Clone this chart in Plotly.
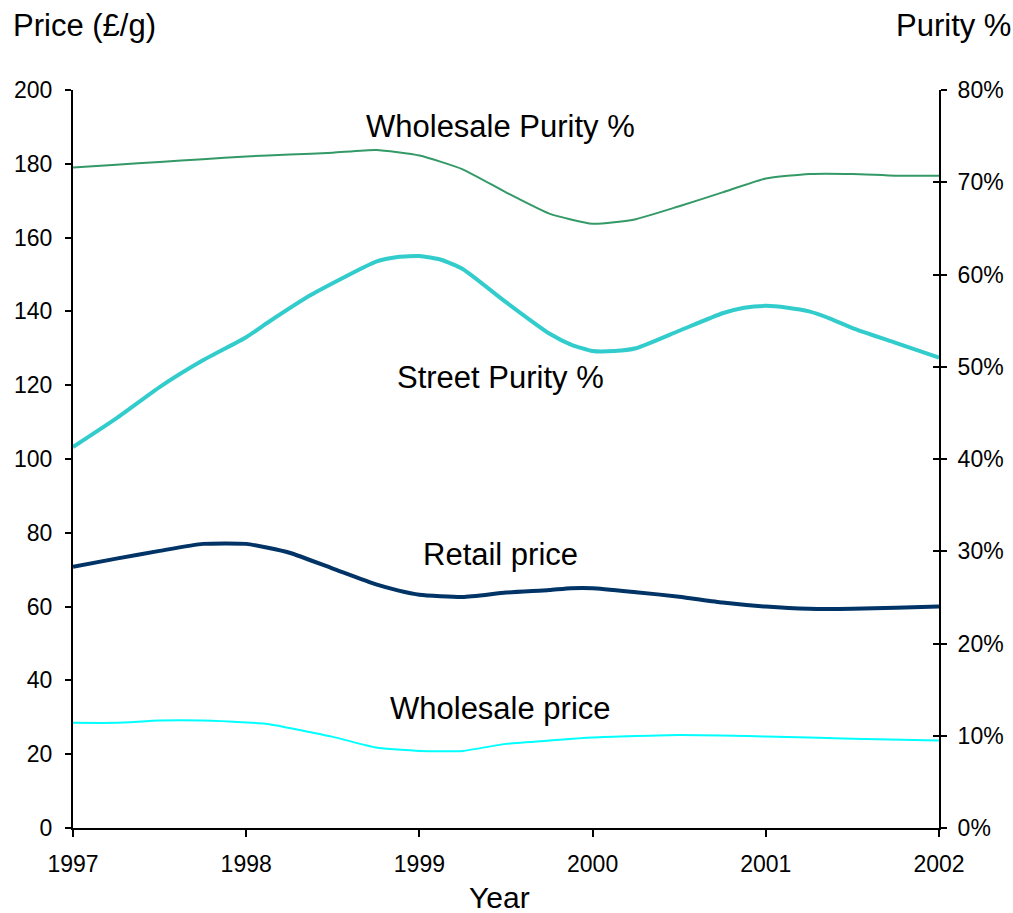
import plotly.graph_objects as go

# Wholesale purity (%), right axis
wp_purity_x = [1997, 1997.25, 1997.5, 1997.75, 1998, 1998.25, 1998.5, 1998.75, 1999,
               1999.25, 1999.5, 1999.75, 2000, 2000.25, 2000.5, 2000.75, 2001,
               2001.25, 2001.5, 2001.75, 2002]
wp_purity = [71.6, 71.9, 72.2, 72.5, 72.8, 73.0, 73.2, 73.5, 72.9,
             71.4, 68.9, 66.6, 65.5, 66.0, 67.4, 68.9, 70.4,
             70.9, 70.9, 70.7, 70.7]

# Street purity (%), right axis
st_purity_x = [1997, 1997.25, 1997.5, 1997.75, 1998, 1998.125, 1998.375, 1998.75,
               1998.875, 1999, 1999.125, 1999.25, 1999.5, 1999.75, 1999.875, 2000,
               2000.125, 2000.25, 2000.5, 2000.75, 2000.875, 2001, 2001.125,
               2001.25, 2001.375, 2001.5, 2001.75, 2002]
st_purity = [41.3, 44.4, 47.8, 50.7, 53.2, 54.8, 57.8, 61.4,
             61.9, 62.0, 61.6, 60.6, 57.0, 53.6, 52.4, 51.7,
             51.7, 52.0, 53.9, 55.8, 56.4, 56.6, 56.4,
             56.0, 55.2, 54.2, 52.6, 51.0]

# Retail price (£/g), left axis
retail_x = [1997, 1997.25, 1997.5, 1997.75, 1998, 1998.25, 1998.5, 1998.75, 1998.875,
            1999, 1999.25, 1999.5, 1999.75, 1999.875, 2000, 2000.25, 2000.5,
            2000.75, 2001, 2001.25, 2001.5, 2001.75, 2002]
retail = [70.8, 73.0, 75.1, 77.0, 77.0, 74.6, 70.3, 66.0, 64.4,
          63.2, 62.6, 63.8, 64.5, 65.0, 65.0, 63.9, 62.7,
          61.1, 60.0, 59.4, 59.4, 59.7, 60.0]

# Wholesale price (£/g), left axis
wholesale_x = [1997, 1997.25, 1997.5, 1997.75, 1998, 1998.125, 1998.5, 1998.75, 1999,
               1999.25, 1999.5, 1999.75, 2000, 2000.5, 2001, 2001.5, 2002]
wholesale = [28.5, 28.5, 29.1, 29.1, 28.6, 28.2, 24.7, 21.8, 20.9,
             20.9, 22.8, 23.7, 24.5, 25.2, 24.8, 24.2, 23.7]

years = [1997, 1998, 1999, 2000, 2001, 2002]
price_ticks = list(range(0, 201, 20))
purity_ticks = list(range(0, 81, 10))

FONT = "Liberation Sans, Arial, sans-serif"
SMOOTH = 0.5

fig = go.Figure()
fig.add_trace(go.Scatter(x=wp_purity_x, y=wp_purity, yaxis="y2", mode="lines",
                         line=dict(color="#339966", width=2, shape="spline", smoothing=SMOOTH)))
fig.add_trace(go.Scatter(x=st_purity_x, y=st_purity, yaxis="y2", mode="lines",
                         line=dict(color="#33CCCC", width=4, shape="spline", smoothing=SMOOTH)))
fig.add_trace(go.Scatter(x=retail_x, y=retail, mode="lines",
                         line=dict(color="#003366", width=4, shape="spline", smoothing=SMOOTH)))
fig.add_trace(go.Scatter(x=wholesale_x, y=wholesale, mode="lines",
                         line=dict(color="#00FFFF", width=2, shape="spline", smoothing=SMOOTH)))

label_font = dict(family=FONT, size=31, color="black")
for text, yv in [("Wholesale Purity %", 190), ("Street Purity %", 122),
                 ("Retail price", 74), ("Wholesale price", 32.5)]:
    fig.add_annotation(x=1999.47, y=yv, xref="x", yref="y", text=text,
                       showarrow=False, font=label_font)

fig.add_annotation(x=-0.072, y=1.088, xref="paper", yref="paper", text="Price (£/g)",
                   xanchor="left", yanchor="middle", showarrow=False, font=label_font)
fig.add_annotation(x=1.085, y=1.088, xref="paper", yref="paper", text="Purity %",
                   xanchor="right", yanchor="middle", showarrow=False, font=label_font)
fig.add_annotation(x=0.493, y=-0.0935, xref="paper", yref="paper", text="Year",
                   xanchor="center", yanchor="middle", showarrow=False,
                   font=dict(family=FONT, size=30, color="black"))

tick_font = dict(family=FONT, size=23, color="black")
fig.update_layout(
    width=1013, height=913,
    margin=dict(l=73, r=74, t=90, b=85, autoexpand=False),
    paper_bgcolor="white", plot_bgcolor="white",
    showlegend=False,
    xaxis=dict(range=[1997, 2002], tickvals=years, ticktext=[str(y) for y in years],
               showgrid=False, zeroline=False, showline=True, linecolor="black", linewidth=2,
               ticks="outside", ticklen=7, tickwidth=2, tickcolor="black",
               ticklabelstandoff=7, tickfont=tick_font, anchor="y", automargin=False),
    yaxis=dict(range=[0, 200], tickvals=price_ticks, showgrid=False, zeroline=False,
               showline=True, linecolor="black", linewidth=2,
               ticks="outside", ticklen=6, tickwidth=2, tickcolor="black",
               ticklabelstandoff=8, tickfont=tick_font, anchor="x", automargin=False),
    yaxis2=dict(range=[0, 80], tickvals=purity_ticks, ticktext=[f"{v}%" for v in purity_ticks],
                overlaying="y", side="right", anchor="x", showgrid=False, zeroline=False,
                showline=True, linecolor="black", linewidth=2,
                ticks="outside", ticklen=6, tickwidth=2, tickcolor="black",
                ticklabelstandoff=6, tickfont=tick_font, automargin=False),
    yaxis3=dict(range=[0, 80], tickvals=purity_ticks, overlaying="y", side="right",
                anchor="x", showgrid=False, zeroline=False, showline=False,
                ticks="inside", ticklen=6, tickwidth=2, tickcolor="black",
                showticklabels=False, automargin=False),
)
# invisible trace so the inside-tick overlay axis is drawn
fig.add_trace(go.Scatter(x=[1997], y=[0], yaxis="y3", mode="markers",
                         marker=dict(opacity=0), hoverinfo="skip"))

fig.write_html("out.html")
